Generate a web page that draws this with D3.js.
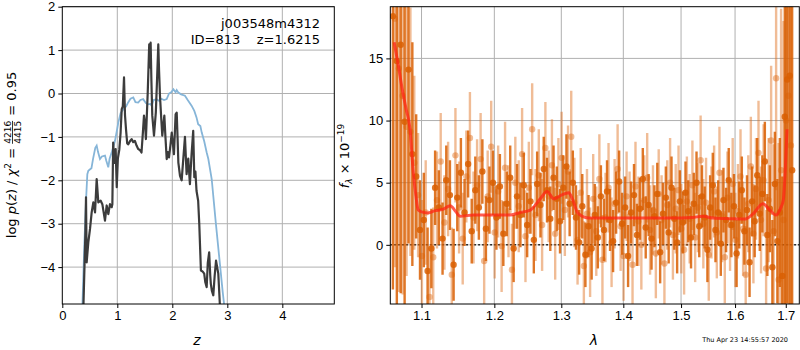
<!DOCTYPE html>
<html>
<head>
<meta charset="utf-8">
<script src="https://cdn.jsdelivr.net/npm/d3@7"></script>
<style>
  body { margin: 0; background: #fff; }
  svg { display: block; font-family: "DejaVu Sans", sans-serif; }
  .tick text { font-size: 13px; fill: #000; }
  .tick line { stroke: #000; }
  .domain { stroke: none; }
  .grid line { stroke: #b0b0b0; stroke-width: 1; }
</style>
</head>
<body>
<svg id="chart" width="800" height="350"></svg>
<script>
// ============================================================
// DATI — pannello sinistro: log p(z) (nero) e chi2 (blu)
// ============================================================
const pzZ = [0.382, 0.42, 0.431, 0.443, 0.473, 0.504, 0.534, 0.564, 0.595, 0.625, 0.655, 0.698, 0.728, 0.776,
  0.807, 0.837, 0.867, 0.898, 0.91, 0.925, 0.945, 0.97, 0.99, 1.01, 1.036, 1.06, 1.08, 1.1, 1.122, 1.14, 1.158,
  1.18, 1.2, 1.23, 1.26, 1.29, 1.32, 1.35, 1.38, 1.41, 1.44, 1.465, 1.485, 1.505, 1.52, 1.553, 1.58, 1.595, 1.606,
  1.62, 1.636, 1.667, 1.7, 1.725, 1.745, 1.76, 1.776, 1.8, 1.818, 1.855, 1.875, 1.898, 1.92, 1.94, 1.965, 1.99,
  2.03, 2.06, 2.08, 2.095, 2.11, 2.14, 2.17, 2.2, 2.23, 2.26, 2.29, 2.32, 2.35, 2.38, 2.4, 2.42, 2.44, 2.47,
  2.49, 2.52, 2.55, 2.58, 2.6, 2.625, 2.645, 2.67, 2.69, 2.7, 2.72, 2.745, 2.77, 2.795, 2.815, 2.836, 2.87];
const pzLog = [-5.0, -3.2, -2.39, -3.89, -3.43, -3.12, -2.74, -2.51, -2.74, -1.97, -2.51, -2.47, -2.55, -2.93,
  -2.58, -2.78, -2.55, -2.62, -2.55, -1.13, -1.6, -1.28, -2.16, -1.5, -1.3, -0.9, -0.36, -0.3, 0.37, -0.5, -0.82,
  -1.15, -1.17, -1.1, -1.05, -1.12, -1.09, -1.2, -1.28, -1.3, -1.36, -0.9, -0.51, -0.7, -1.05, 0.02, 1.13, 0.6, 1.17,
  0.3, -0.51, -0.97, -0.44, 0.4, 1.13, 0.5, -0.06, -0.6, -0.97, -0.51, -1.0, -1.51, -1.35, -1.47, -1.2, -0.9,
  -1.4, -0.48, -0.44, -1.0, -1.59, -1.9, -2.0, -1.5, -1.0, -1.86, -1.5, -2.09, -1.4, -0.86, -1.93, -1.8, -2.24, -2.47,
  -3.0, -4.08, -4.1, -4.15, -4.35, -4.46, -3.9, -3.66, -4.2, -4.38, -4.55, -4.65, -4.2, -3.85, -4.0, -4.15, -5.0];

const chiZ = [0.364, 0.4, 0.43, 0.455, 0.473, 0.5, 0.53, 0.56, 0.6, 0.625, 0.65, 0.685, 0.72, 0.776, 0.8, 0.836,
  0.86, 0.9, 0.958, 1.0, 1.018, 1.06, 1.11, 1.16, 1.2, 1.24, 1.29, 1.33, 1.38, 1.42, 1.47, 1.52, 1.56, 1.6, 1.625,
  1.66, 1.716, 1.76, 1.8, 1.85, 1.898, 1.94, 1.98, 2.02, 2.06, 2.08, 2.11, 2.16, 2.23, 2.28, 2.35, 2.4, 2.44,
  2.47, 2.51, 2.535, 2.58, 2.625, 2.655, 2.716, 2.79, 2.867, 2.916, 2.95];
const chiLog = [-4.95, -3.5, -2.5, -1.86, -1.78, -1.75, -1.72, -1.5, -1.25, -1.2, -1.35, -1.51, -1.45, -1.43, -1.55,
  -1.7, -1.5, -1.35, -1.09, -0.8, -0.67, -0.45, -0.36, -0.3, -0.2, -0.12, -0.09, -0.2, -0.21, -0.15, -0.13, -0.22,
  -0.25, -0.24, -0.28, -0.15, -0.13, -0.17, -0.12, -0.15, -0.13, 0.0, 0.03, 0.1, 0.03, 0.08, 0.02, -0.02, -0.05,
  -0.15, -0.28, -0.4, -0.55, -0.71, -0.75, -0.9, -1.1, -1.36, -1.51, -1.97, -2.97, -3.95, -4.57, -4.95];

const zTicks = [0, 1, 2, 3, 4];
const logTicks = [-4, -3, -2, -1, 0, 1, 2];

// ============================================================
// DATI — pannello destro: spettro (due orientazioni) + modello
// ============================================================
const lamDark = [1.063, 1.068, 1.073, 1.078, 1.083, 1.088, 1.093, 1.098, 1.103, 1.108,
  1.113, 1.118, 1.123, 1.128, 1.133, 1.138, 1.143, 1.148, 1.153, 1.158,
  1.163, 1.168, 1.173, 1.178, 1.183, 1.188, 1.193, 1.198, 1.203, 1.208,
  1.213, 1.218, 1.223, 1.228, 1.233, 1.238, 1.243, 1.248, 1.253, 1.258,
  1.263, 1.268, 1.273, 1.278, 1.283, 1.288, 1.293, 1.298, 1.303, 1.308,
  1.313, 1.318, 1.323, 1.328, 1.333, 1.338, 1.343, 1.348, 1.353, 1.358,
  1.363, 1.368, 1.373, 1.378, 1.383, 1.388, 1.393, 1.398, 1.403, 1.408,
  1.413, 1.418, 1.423, 1.428, 1.433, 1.438, 1.443, 1.448, 1.453, 1.458,
  1.463, 1.468, 1.473, 1.478, 1.483, 1.488, 1.493, 1.498, 1.503, 1.508,
  1.513, 1.518, 1.523, 1.528, 1.533, 1.538, 1.543, 1.548, 1.553, 1.558,
  1.563, 1.568, 1.573, 1.578, 1.583, 1.588, 1.593, 1.598, 1.603, 1.608,
  1.613, 1.618, 1.623, 1.628, 1.633, 1.638, 1.643, 1.648, 1.653, 1.658,
  1.663, 1.668, 1.673, 1.678, 1.683, 1.688, 1.693, 1.698, 1.703, 1.708, 1.713];
const fluxDark = [18.4, 14.8, 16.1, 9.9, 14.1, 7.3, 5.5, 1.2, 2.0, -2.1,
  -0.3, 4.6, 3.0, 0.5, 5.2, 4.0, -1.6, 3.8, 5.8, 2.6,
  6.5, 1.1, 4.4, 3.0, 5.9, 1.3, 3.6, 5.0, 2.2, 4.7,
  0.9, 3.3, 5.4, -0.3, 3.9, 2.4, 4.8, 1.6, 3.5, 0.4,
  4.9, 3.2, 6.1, 4.4, 2.1, 5.4, 3.7, 1.9, 4.6, 6.3,
  3.3, 5.0, 2.2, 0.2, 3.1, -0.8, 1.5, -0.3, 2.4, 0.6,
  3.9, 1.2, 4.3, 2.0, 0.3, 3.4, 5.1, 1.7, 3.0, -0.9,
  2.6, 4.0, 0.8, 2.9, 5.3, 1.4, 3.2, 0.5, 2.3, 4.1,
  -0.6, 2.5, 3.8, 1.0, 4.6, 2.1, 0.2, 3.5, 1.8, 4.2,
  2.7, 0.6, 3.3, 5.0, 1.5, 3.9, 2.2, -0.4, 3.0, 4.8,
  1.2, 2.6, 0.1, 3.6, 2.0, 5.2, 1.6, 3.1, -0.7, 2.4,
  4.4, 1.1, 2.8, -1.4, 3.5, 1.9, 5.6, 2.5, 4.1, 6.7,
  0.8, 2.9, -1.8, 4.9, 0.3, 2.6, -2.5, 10.3, 13.3, 13.6, 6.0];
const errDark = [22, 21, 20, 18, 14, 9, 5, 4, 3.8, 3.5,
  3.2, 3.0, 3.0, 2.9, 2.8, 2.8, 2.9, 2.7, 2.8, 2.7,
  2.7, 2.6, 2.7, 2.6, 2.6, 2.6, 2.7, 2.6, 2.6, 2.6,
  2.6, 2.6, 2.6, 2.7, 2.6, 2.6, 2.6, 2.6, 2.6, 2.7,
  2.6, 2.6, 2.6, 2.6, 2.6, 2.6, 2.6, 2.6, 2.6, 2.6,
  2.6, 2.6, 2.6, 2.6, 2.6, 2.6, 2.5, 2.5, 2.5, 2.5,
  2.5, 2.5, 2.5, 2.5, 2.5, 2.5, 2.5, 2.5, 2.5, 2.5,
  2.5, 2.5, 2.5, 2.5, 2.5, 2.5, 2.5, 2.5, 2.5, 2.5,
  2.5, 2.5, 2.5, 2.5, 2.5, 2.5, 2.5, 2.5, 2.5, 2.5,
  2.5, 2.5, 2.5, 2.5, 2.5, 2.5, 2.5, 2.6, 2.6, 2.6,
  2.6, 2.6, 2.6, 2.6, 2.6, 2.6, 2.6, 2.6, 2.7, 2.7,
  2.7, 2.7, 2.8, 2.8, 2.8, 2.9, 3.0, 3.0, 3.1, 3.2,
  3.3, 3.5, 3.8, 4.2, 5, 6, 8, 16, 18, 20, 20];

const lamLight = [1.0655, 1.0705, 1.0755, 1.0805, 1.0855, 1.0905, 1.0955, 1.1005, 1.1055, 1.1105,
  1.1155, 1.1205, 1.1255, 1.1305, 1.1355, 1.1405, 1.1455, 1.1505, 1.1555, 1.1605,
  1.1655, 1.1705, 1.1755, 1.1805, 1.1855, 1.1905, 1.1955, 1.2005, 1.2055, 1.2105,
  1.2155, 1.2205, 1.2255, 1.2305, 1.2355, 1.2405, 1.2455, 1.2505, 1.2555, 1.2605,
  1.2655, 1.2705, 1.2755, 1.2805, 1.2855, 1.2905, 1.2955, 1.3005, 1.3055, 1.3105,
  1.3155, 1.3205, 1.3255, 1.3305, 1.3355, 1.3405, 1.3455, 1.3505, 1.3555, 1.3605,
  1.3655, 1.3705, 1.3755, 1.3805, 1.3855, 1.3905, 1.3955, 1.4005, 1.4055, 1.4105,
  1.4155, 1.4205, 1.4255, 1.4305, 1.4355, 1.4405, 1.4455, 1.4505, 1.4555, 1.4605,
  1.4655, 1.4705, 1.4755, 1.4805, 1.4855, 1.4905, 1.4955, 1.5005, 1.5055, 1.5105,
  1.5155, 1.5205, 1.5255, 1.5305, 1.5355, 1.5405, 1.5455, 1.5505, 1.5555, 1.5605,
  1.5655, 1.5705, 1.5755, 1.5805, 1.5855, 1.5905, 1.5955, 1.6005, 1.6055, 1.6105,
  1.6155, 1.6205, 1.6255, 1.6305, 1.6355, 1.6405, 1.6455, 1.6505, 1.6555, 1.6605,
  1.6655, 1.6705, 1.6755, 1.6805, 1.6855, 1.6905, 1.6955, 1.7005, 1.7055, 1.7105];
const fluxLight = [18.2, 14.2, 12.0, 9.5, 9.1, 6.6, 4.0, -0.9, 2.6, -4.2,
  -1.0, 3.6, 6.7, 1.8, 4.5, -2.4, 7.2, 3.0, 0.5, 5.5,
  8.6, 2.2, 4.8, 6.9, -1.3, 3.9, 7.9, 1.0, 4.3, -0.1,
  6.2, 2.7, -2.0, 5.0, 3.1, 7.3, 0.7, 4.6, 9.3, 2.4,
  5.6, 1.6, 7.8, 3.9, 6.4, 0.9, 4.9, 7.0, 2.8, 5.9,
  8.7, 3.4, 0.4, 4.2, -1.7, 2.5, -0.6, 3.7, 1.1, 5.3,
  -1.2, 2.2, 4.6, 0.2, 3.3, 6.1, 1.5, -0.9, 3.9, 2.3,
  -1.6, 4.7, 1.9, 0.0, 3.6, 5.4, 1.2, 2.8, -0.7, 4.1,
  2.0, -1.5, 3.2, 5.0, 0.8, 2.9, 4.4, 1.3, -0.4, 3.5,
  2.1, 4.8, 0.6, 3.0, 6.8, 1.7, 3.4, -0.8, 2.6, 4.3,
  1.0, 5.8, 2.3, -1.0, 3.8, 1.6, 4.9, 0.4, 2.7, 5.5,
  1.3, -2.4, 3.3, 6.3, 0.9, 4.5, 7.4, 2.0, 5.2, -1.9,
  3.6, 8.4, 1.1, 13.4, -2.8, 6.0, 2.0, 10.0, 12.0, 8.0];
const errLight = [20, 18, 16, 12, 10, 7, 5, 4.5, 4.2, 4.0,
  4.0, 3.9, 3.9, 3.8, 3.8, 3.8, 3.8, 3.7, 3.7, 3.7,
  3.7, 3.7, 3.7, 3.7, 3.7, 3.7, 3.7, 3.7, 3.7, 3.7,
  3.7, 3.7, 3.7, 3.7, 3.7, 3.7, 3.7, 3.7, 3.7, 3.7,
  3.7, 3.7, 3.7, 3.7, 3.7, 3.7, 3.7, 3.7, 3.7, 3.7,
  3.7, 3.6, 3.6, 3.6, 3.6, 3.6, 3.6, 3.6, 3.6, 3.6,
  3.6, 3.6, 3.6, 3.6, 3.6, 3.6, 3.6, 3.6, 3.6, 3.6,
  3.6, 3.6, 3.6, 3.6, 3.6, 3.6, 3.6, 3.6, 3.6, 3.6,
  3.6, 3.6, 3.6, 3.6, 3.6, 3.6, 3.6, 3.6, 3.6, 3.6,
  3.6, 3.6, 3.6, 3.6, 3.6, 3.6, 3.6, 3.7, 3.7, 3.7,
  3.7, 3.7, 3.7, 3.7, 3.7, 3.7, 3.7, 3.8, 3.8, 3.8,
  3.8, 3.9, 3.9, 4.0, 4.0, 4.1, 4.2, 4.3, 4.5, 4.7,
  5, 6, 7, 9, 11, 13, 16, 18, 20, 20];

// modello (linea rossa)
const lamModel = [1.0646, 1.07, 1.075, 1.08, 1.085, 1.089, 1.0925, 1.0957, 1.1, 1.1089, 1.118, 1.128, 1.1385,
  1.145, 1.152, 1.17, 1.2, 1.223, 1.2378, 1.2527, 1.2677, 1.278, 1.2884, 1.30, 1.3117, 1.318, 1.326, 1.3437,
  1.38, 1.42, 1.48, 1.52, 1.539, 1.56, 1.59, 1.618, 1.635, 1.654, 1.668, 1.68, 1.689, 1.695, 1.699, 1.7025];
const fluxModel = [16.3, 14.4, 12.5, 10.9, 9.3, 6.0, 4.0, 2.8, 2.65, 2.57, 2.75, 2.85, 3.15,
  2.75, 2.3, 2.4, 2.4, 2.4, 2.6, 2.8, 3.7, 4.3, 3.7, 4.0, 4.2, 3.6, 2.55, 2.15,
  2.15, 2.15, 2.15, 2.2, 2.3, 2.15, 2.1, 2.07, 2.5, 3.3, 2.8, 2.4, 2.9, 3.6, 6.0, 9.3];

const lamTicks = [1.1, 1.2, 1.3, 1.4, 1.5, 1.6, 1.7];
const fluxTicks = [0, 5, 10, 15];

// ============================================================
// IMPOSTAZIONE SVG
// ============================================================
const svg = d3.select("#chart");
const top0 = 6.7, bottom0 = 304;

// ----------------------------------------------------------
// PANNELLO SINISTRO
// ----------------------------------------------------------
const xL = d3.scaleLinear().domain([0, 4.945]).range([62.3, 334.3]);
const yL = d3.scaleLinear().domain([-4.85, 2]).range([bottom0, top0]);

function drawGrid(xs, ys, xt, yt) {
  const g = svg.append("g").attr("class", "grid");
  g.selectAll(".gx").data(xt).enter().append("line")
    .attr("x1", (d) => xs(d)).attr("x2", (d) => xs(d))
    .attr("y1", top0).attr("y2", bottom0);
  g.selectAll(".gy").data(yt).enter().append("line")
    .attr("x1", xs.range()[0]).attr("x2", xs.range()[1])
    .attr("y1", (d) => ys(d)).attr("y2", (d) => ys(d));
}

function drawAxes(xs, ys, xt, yt, xfmt, yfmt) {
  svg.append("g")
    .attr("transform", `translate(0,${bottom0})`)
    .call(d3.axisBottom(xs).tickValues(xt).tickFormat(xfmt).tickSize(4).tickPadding(3));
  svg.append("g")
    .attr("transform", `translate(${xs.range()[0]},0)`)
    .call(d3.axisLeft(ys).tickValues(yt).tickFormat(yfmt).tickSize(4).tickPadding(3));
  // cornice
  svg.append("rect")
    .attr("x", xs.range()[0]).attr("y", top0)
    .attr("width", xs.range()[1] - xs.range()[0]).attr("height", bottom0 - top0)
    .attr("fill", "none").attr("stroke", "#000").attr("stroke-width", 1);
}

const minus = (d) => String(d).replace("-", "\u2212");

drawGrid(xL, yL, zTicks.slice(1), logTicks);

svg.append("clipPath").attr("id", "clipL").append("rect")
  .attr("x", xL.range()[0]).attr("y", top0)
  .attr("width", xL.range()[1] - xL.range()[0]).attr("height", bottom0 - top0);

const lineL = d3.line().x((d) => xL(d[0])).y((d) => yL(d[1]));
const gL = svg.append("g").attr("clip-path", "url(#clipL)");

gL.append("path")
  .datum(chiZ.map((z, i) => [z, chiLog[i]]))
  .attr("d", lineL)
  .attr("fill", "none")
  .attr("stroke", "#86b5d8")
  .attr("stroke-width", 1.8);

gL.append("path")
  .datum(pzZ.map((z, i) => [z, pzLog[i]]))
  .attr("d", lineL)
  .attr("fill", "none")
  .attr("stroke", "#3c3c3c")
  .attr("stroke-width", 2.2)
  .attr("stroke-linejoin", "round");

drawAxes(xL, yL, zTicks, logTicks, (d) => d, minus);

// testo in alto a destra
svg.append("text").attr("x", 320).attr("y", 28).attr("text-anchor", "end")
  .attr("font-size", 13).text("j003548m4312");
svg.append("text").attr("x", 320).attr("y", 44).attr("text-anchor", "end")
  .attr("font-size", 13).attr("xml:space", "preserve").text("ID=813    z=1.6215");

// etichetta asse x
svg.append("text").attr("x", 197).attr("y", 345).attr("text-anchor", "middle")
  .attr("font-size", 14).attr("font-style", "italic").text("z");

// etichetta y (con frazione) costruita pezzo per pezzo
const yLab = svg.append("g");
let cx = 0;
function piece(t, opts = {}) {
  const el = yLab.append("text").attr("x", cx).attr("y", opts.dy || 0)
    .attr("font-size", opts.size || 13)
    .attr("font-style", opts.italic ? "italic" : "normal")
    .attr("xml:space", "preserve").text(t);
  const w = el.node().getComputedTextLength();
  if (!opts.noAdvance) cx += w;
  return w;
}
piece("log ");
piece("p", { italic: true });
piece("(");
piece("z", { italic: true });
piece(") / ");
piece("\u03c7", { italic: true });
piece("2", { size: 9, dy: -5 });
piece(" = ");
// frazione
const fracStart = cx;
const wNum = piece("4216", { size: 9, dy: -5, noAdvance: true });
piece("4415", { size: 9, dy: 5, noAdvance: true });
yLab.append("line").attr("x1", fracStart).attr("x2", fracStart + wNum)
  .attr("y1", -3.5).attr("y2", -3.5).attr("stroke", "#000").attr("stroke-width", 0.8);
cx += wNum + 1;
piece(" = 0.95");
yLab.attr("transform", `translate(16,${155 + cx / 2}) rotate(-90)`);

// ----------------------------------------------------------
// PANNELLO DESTRO
// ----------------------------------------------------------
const xR = d3.scaleLog().domain([1.0597, 1.7277]).range([390.3, 799.3]);
const yR = d3.scaleLinear().domain([-4.76, 19.16]).range([bottom0, top0]);

drawGrid(xR, yR, lamTicks, fluxTicks);

svg.append("clipPath").attr("id", "clipR").append("rect")
  .attr("x", xR.range()[0]).attr("y", top0)
  .attr("width", xR.range()[1] - xR.range()[0]).attr("height", bottom0 - top0);
const gR = svg.append("g").attr("clip-path", "url(#clipR)");

// linea dello zero tratteggiata
gR.append("line")
  .attr("x1", xR.range()[0]).attr("x2", xR.range()[1])
  .attr("y1", yR(0)).attr("y2", yR(0))
  .attr("stroke", "#000").attr("stroke-width", 1.5).attr("stroke-dasharray", "1.5,2.5");

function drawSpectrum(lam, flux, err, color, alpha) {
  const data = lam.map((l, i) => ({ l, f: flux[i], e: err[i] }));
  const g = gR.append("g");
  g.selectAll("line").data(data).enter().append("line")
    .attr("x1", (d) => xR(d.l)).attr("x2", (d) => xR(d.l))
    .attr("y1", (d) => yR(d.f - d.e)).attr("y2", (d) => yR(d.f + d.e))
    .attr("stroke", color).attr("stroke-width", 2.4).attr("stroke-opacity", alpha);
  g.selectAll("circle").data(data).enter().append("circle")
    .attr("cx", (d) => xR(d.l)).attr("cy", (d) => yR(d.f)).attr("r", 3.2)
    .attr("fill", color).attr("fill-opacity", alpha);
}

drawSpectrum(lamLight, fluxLight, errLight, "#dd6a16", 0.45);
drawSpectrum(lamDark, fluxDark, errDark, "#d95f02", 0.85);

// modello
gR.append("path")
  .datum(lamModel.map((l, i) => [l, fluxModel[i]]))
  .attr("d", d3.line().curve(d3.curveMonotoneX).x((d) => xR(d[0])).y((d) => yR(d[1])))
  .attr("fill", "none")
  .attr("stroke", "#ff2414")
  .attr("stroke-opacity", 0.75)
  .attr("stroke-width", 3);

drawAxes(xR, yR, lamTicks, fluxTicks, (d) => d.toFixed(1), (d) => d);

svg.append("text").attr("x", 594).attr("y", 345).attr("text-anchor", "middle")
  .attr("font-size", 14).attr("font-style", "italic").text("\u03bb");

// etichetta y destra: f_λ × 10^-19
const yR2 = svg.append("text").attr("transform", "translate(349,156) rotate(-90)")
  .attr("text-anchor", "middle").attr("font-size", 13);
yR2.append("tspan").attr("font-style", "italic").text("f");
yR2.append("tspan").attr("font-size", 9).attr("font-style", "italic").attr("dy", 3).text("\u03bb");
yR2.append("tspan").attr("dy", -3).text(" \u00d7 10");
yR2.append("tspan").attr("font-size", 9).attr("dy", -5).text("\u221219");

// timestamp
svg.append("text").attr("x", 788).attr("y", 342).attr("text-anchor", "end")
  .attr("font-size", 6.5).text("Thu Apr 23 14:55:57 2020");
</script>
</body>
</html>
